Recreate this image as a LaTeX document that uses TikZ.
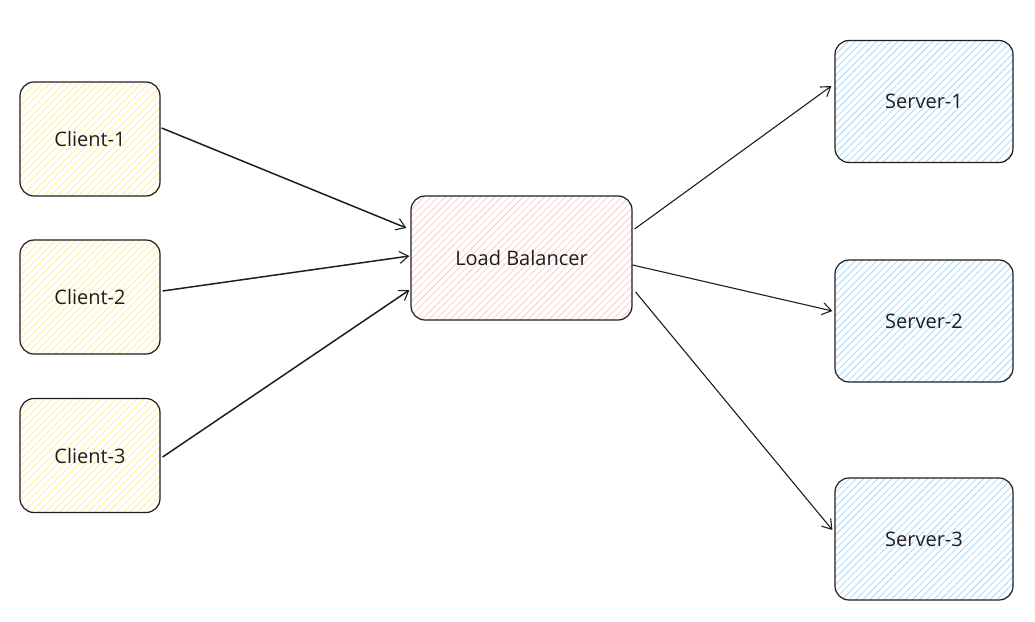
\documentclass[tikz,border=0pt]{standalone}
\usepackage{fontspec}
\setmainfont{Open Sans}
\usetikzlibrary{arrows.meta,patterns.meta,calc}
\definecolor{ink}{HTML}{1E1E1E}
\definecolor{hy}{HTML}{FFEC99}
\definecolor{hp}{HTML}{FFC9C9}
\definecolor{hb}{HTML}{A5D8FF}
\tikzset{
  box/.style={draw=ink, line width=1.2pt, rounded corners=14pt, inner sep=0pt,
    font=\fontsize{20}{24}\selectfont, text=ink},
  client/.style={box, minimum width=140pt, minimum height=114pt,
    preaction={pattern={Lines[angle=45,distance=5pt,line width=0.8pt]}, pattern color=hy}},
  lbox/.style={box, minimum width=221pt, minimum height=124pt,
    preaction={pattern={Lines[angle=45,distance=5pt,line width=0.8pt]}, pattern color=hp}},
  server/.style={box, minimum width=178pt, minimum height=122pt,
    preaction={pattern={Lines[angle=45,distance=5pt,line width=0.8pt]}, pattern color=hb}},
  conn/.style={draw=ink, line width=1.1pt, -{Straight Barb[length=9pt,width=12pt,line width=1.1pt]}},
  connb/.style={conn, line width=1.5pt}
}
\begin{document}
\begin{tikzpicture}[x=1pt,y=-1pt]
\useasboundingbox (0,0) rectangle (1035,621);
\node[client] (c1) at (90,139) {Client-1};
\node[client] (c2) at (90,297) {Client-2};
\node[client] (c3) at (90,455.5) {Client-3};
\node[lbox] (lb) at (521.5,258) {Load Balancer};
\node[server] (s1) at (924,101.5) {Server-1};
\node[server] (s2) at (924,321) {Server-2};
\node[server] (s3) at (924,539) {Server-3};
\draw[connb] ($(c1.east)+(1,-11)$) -- ($(lb.west)+(-4,-30)$);
\draw[connb] ($(c2.east)+(2,-6)$) -- ($(lb.west)+(-1,-2)$);
\draw[connb] ($(c3.east)+(2,1.5)$) -- ($(lb.west)+(-1,32)$);
\draw[conn] ($(lb.east)+(2,-29)$) -- ($(s1.west)+(-3,-15.5)$);
\draw[conn] ($(lb.east)+(0,7)$) -- ($(s2.west)+(-2,-10)$);
\draw[conn] ($(lb.east)+(3,34)$) -- ($(s3.west)+(-2,-9)$);
\end{tikzpicture}
\end{document}
